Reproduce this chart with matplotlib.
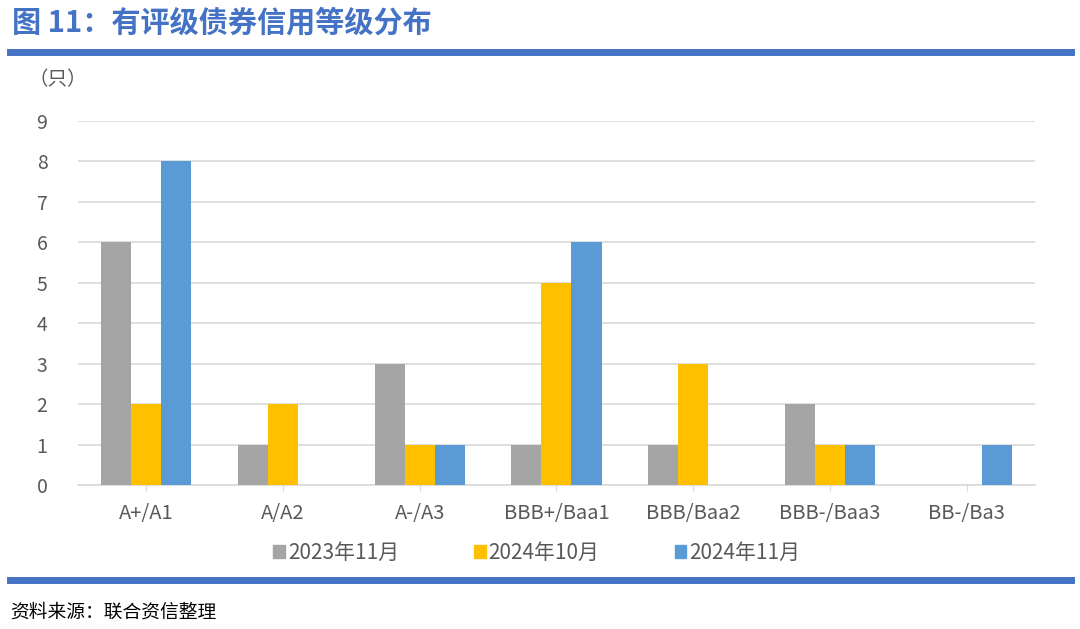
import numpy as np
import matplotlib.pyplot as plt
from matplotlib.lines import Line2D
from matplotlib.patches import Patch

plt.rcParams['font.family'] = ['Noto Sans CJK SC', 'DejaVu Sans']

categories = ['A+/A1', 'A/A2', 'A-/A3', 'BBB+/Baa1', 'BBB/Baa2', 'BBB-/Baa3', 'BB-/Ba3']
series_names = ['2023年11月', '2024年10月', '2024年11月']
v_2023_11 = [6, 1, 3, 1, 1, 2, 0]
v_2024_10 = [2, 2, 1, 5, 3, 1, 0]
v_2024_11 = [8, 0, 1, 6, 0, 1, 1]
colors = ['#A5A5A5', '#FFC000', '#5B9BD5']

fig = plt.figure(figsize=(10.8, 6.29), dpi=100)

# title and rules
fig.text(0.011, 0.965, '图 11：有评级债券信用等级分布', fontsize=21, fontweight='bold',
         color='#4472C4', ha='left', va='center')
fig.add_artist(Line2D([0.009, 0.992], [0.917, 0.917], color='#4472C4', lw=5))
fig.add_artist(Line2D([0.009, 0.992], [0.078, 0.078], color='#4472C4', lw=5))
fig.text(0.009, 0.027, '资料来源：联合资信整理', fontsize=13.5, color='#000000',
         ha='left', va='center')

ax = fig.add_axes([0.0722, 0.229, 0.886, 0.5786])
x = np.arange(len(categories))
w = 0.22
for i, (vals, c) in enumerate(zip([v_2023_11, v_2024_10, v_2024_11], colors)):
    ax.bar(x + (i - 1) * w, vals, width=w, color=c, zorder=3)

ax.set_xlim(-0.5, len(categories) - 0.5)
ax.set_ylim(0, 9)
ax.set_yticks(range(0, 10))
ax.yaxis.grid(True, color='#D9D9D9', lw=1.2, zorder=0)
for s in ['top', 'right', 'left']:
    ax.spines[s].set_visible(False)
ax.spines['bottom'].set_color('#D9D9D9')
ax.spines['bottom'].set_linewidth(1.2)
ax.set_xticks(x)
ax.set_xticklabels(categories)
ax.tick_params(axis='y', length=0, pad=22, labelsize=14, labelcolor='#595959')
ax.tick_params(axis='x', length=4, color='#D9D9D9', pad=9, labelsize=14.5, labelcolor='#595959')

fig.text(0.026, 0.873, '（只）', fontsize=14, color='#595959', ha='left', va='center')

handles = [Patch(color=c) for c in colors]
fig.legend(handles, series_names, loc='center', bbox_to_anchor=(0.497, 0.121), ncol=3,
           frameon=False, fontsize=15, handlelength=0.55, handleheight=0.55,
           handletextpad=0.15, columnspacing=3.6, labelcolor='#595959')

fig.savefig('out.png', dpi=100)
